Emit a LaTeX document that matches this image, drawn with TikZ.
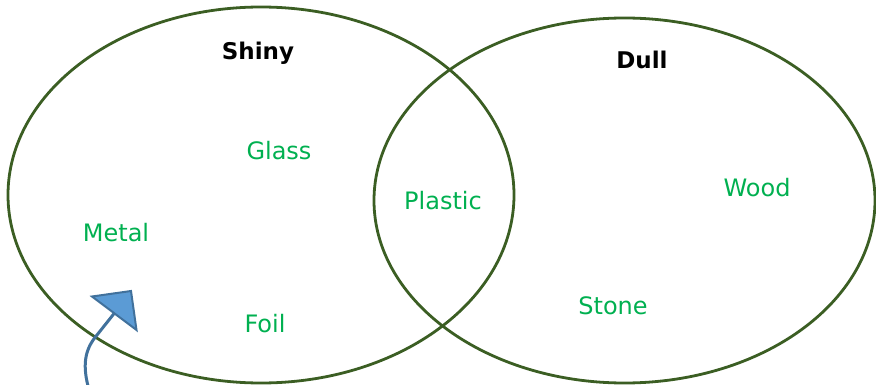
\documentclass[tikz,border=0pt]{standalone}
\usepackage{fontspec}
\setmainfont{DejaVu Sans}
\definecolor{ringgreen}{HTML}{3B5E23}
\definecolor{labelgreen}{HTML}{00B050}
\definecolor{arrowfill}{HTML}{5B9BD5}
\definecolor{arrowline}{HTML}{41719C}
\begin{document}
\begin{tikzpicture}[x=1pt,y=1pt,
  ring/.style={draw=ringgreen,line width=2.8pt},
  heading/.style={font=\fontsize{23}{27}\selectfont\bfseries,text=black},
  item/.style={font=\fontsize{24}{28}\selectfont,text=labelgreen}]
\useasboundingbox (0,0) rectangle (876,-385);
\draw[ring] (261,-195) ellipse [x radius=253, y radius=188];
\draw[ring] (624.5,-200.5) ellipse [x radius=250.5, y radius=182.5];
\node[heading] (shiny) at (258,-53) {Shiny};
\node[heading] (dull) at (642,-60) {Dull};
\node[item] (glass) at (279,-151) {Glass};
\node[item] (plastic) at (443,-201) {Plastic};
\node[item] (wood) at (757,-188) {Wood};
\node[item] (metal) at (116,-233) {Metal};
\node[item] (foil) at (265,-324) {Foil};
\node[item] (stone) at (613,-306) {Stone};
\coordinate (tailA) at (88,-386);
\coordinate (headbase) at (114.5,-313);
\coordinate (tipL) at (92,-296.5);
\coordinate (tip) at (131,-291);
\coordinate (tipR) at (136.5,-330);
\draw[arrowline,line width=3pt] (tailA) .. controls (82,-362) and (86,-348) .. (97,-335) -- (headbase);
\filldraw[fill=arrowfill,draw=arrowline,line width=2pt,line join=miter] (tipL) -- (tip) -- (tipR) -- cycle;
\end{tikzpicture}
\end{document}
